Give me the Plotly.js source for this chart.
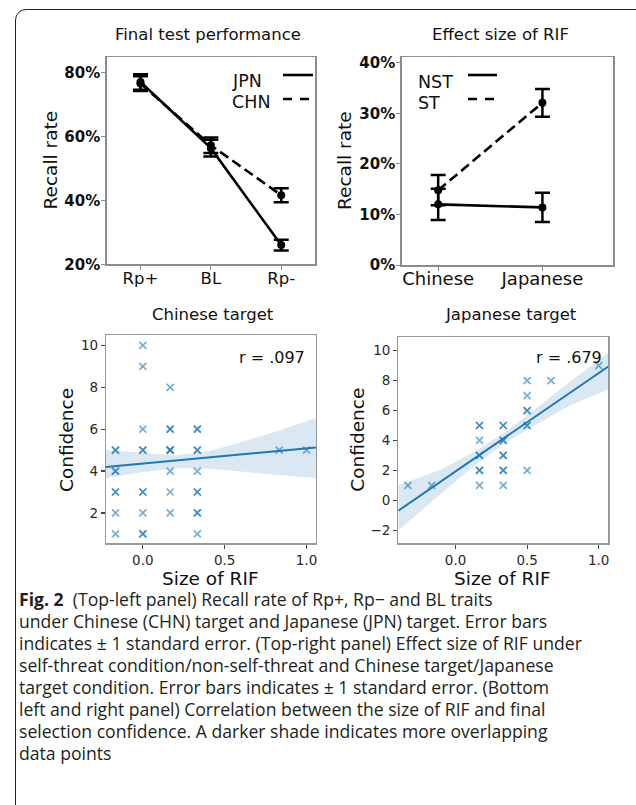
<!DOCTYPE html>
<html><head><meta charset="utf-8">
<script src="https://cdn.plot.ly/plotly-3.0.1.min.js"></script>
<style>
html,body{margin:0;padding:0;background:#fff;overflow:hidden;}
#wrap{position:relative;width:636px;height:805px;}
#chart{position:absolute;left:0;top:0;width:636px;height:805px;}
#frame{position:absolute;left:15px;top:9px;width:640px;height:900px;border:1px solid #231f20;border-radius:11px;box-sizing:border-box;pointer-events:none;}
</style></head>
<body><div id="wrap"><div id="chart"></div><div id="frame"></div></div>
<script>
// ---------- data ----------
const finalCats = ['Rp+', 'BL', 'Rp-'];
const jpnRecall = [77.0, 56.3, 26.0];
const jpnErr = [2.4, 2.6, 1.7];
const chnRecall = [76.5, 57.2, 41.6];
const chnErr = [2.3, 2.4, 2.2];
const finalTicks = [20, 40, 60, 80];

const rifCats = ['Chinese', 'Japanese'];
const nstRIF = [12.0, 11.4];
const nstErr = [3.1, 2.9];
const stRIF = [14.8, 32.1];
const stErr = [3.0, 2.75];
const rifTicks = [0, 10, 20, 30, 40];

const chnTargetRIF = [
  -0.167,-0.167,-0.167,-0.167,-0.167,-0.167,-0.167,-0.167,
  0,0,0,0,0,0,0,0,0,0,
  0.167,0.167,0.167,0.167,0.167,0.167,0.167,0.167,0.167,
  0.333,0.333,0.333,0.333,0.333,0.333,0.333,0.333,0.333,0.333,
  0.833, 1.0];
const chnTargetConf = [
  5,5,4,4,3,3,2,1,
  10,9,6,5,5,3,3,2,1,1,
  8,6,6,5,5,5,4,3,2,
  6,6,5,5,4,3,3,2,2,1,
  5, 5];
const chnFitX = [-0.225, 1.058];
const chnFitY = [4.19, 5.13];
const chnBandX = [-0.225, 0, 0.2, 0.4, 0.6, 0.8, 1.058];
const chnBandUpper = [4.99, 4.85, 4.75, 4.95, 5.38, 5.85, 6.54];
const chnBandLower = [3.67, 3.95, 4.14, 4.12, 3.98, 3.82, 3.67];
const chnR = 'r = .097';

const jpnTargetRIF = [
  -0.333, -0.167,
  0.167,0.167,0.167,0.167,0.167,0.167,0.167,0.167,
  0.333,0.333,0.333,0.333,0.333,0.333,0.333,0.333,0.333,
  0.5,0.5,0.5,0.5,0.5,0.5,0.5,
  0.667, 1.0];
const jpnTargetConf = [
  1, 1,
  5,5,4,3,3,2,2,1,
  5,5,4,4,3,3,2,2,1,
  8,7,6,6,5,5,2,
  8, 9];
const jpnFitX = [-0.4, 1.067];
const jpnFitY = [-0.7, 8.95];
const jpnBandX = [-0.4, -0.1, 0.15, 0.35, 0.55, 0.8, 1.067];
const jpnBandUpper = [1.0, 2.05, 3.35, 4.6, 6.05, 7.95, 9.85];
const jpnBandLower = [-2.0, 0.45, 2.45, 3.85, 5.0, 6.35, 7.4];
const jpnR = 'r = .679';

const captionLines = [
  '<b>Fig. 2</b>  (Top-left panel) Recall rate of Rp+, Rp\u2212 and BL traits',
  'under Chinese (CHN) target and Japanese (JPN) target. Error bars',
  'indicates \u00b1 1 standard error. (Top-right panel) Effect size of RIF under',
  'self-threat condition/non-self-threat and Chinese target/Japanese',
  'target condition. Error bars indicates \u00b1 1 standard error. (Bottom',
  'left and right panel) Correlation between the size of RIF and final',
  'selection confidence. A darker shade indicates more overlapping',
  'data points'
];

// ---------- helpers ----------
const W = 636, H = 805;
const PX = x => x / W;
const PY = y => 1 - y / H;
const FONT = 'DejaVu Sans';
const BLUE = '#1f77b4';

const traces = [];

// Top-left
traces.push({
  x: finalCats, y: chnRecall, xaxis: 'x', yaxis: 'y', type: 'scatter', mode: 'lines+markers',
  line: {color: '#000', width: 2.6, dash: '10px,5px'},
  marker: {color: '#000', size: 8},
  error_y: {type: 'data', array: chnErr, color: '#000', thickness: 2.5, width: 7.5},
  showlegend: false, name: 'CHN'
});
traces.push({
  x: finalCats, y: jpnRecall, xaxis: 'x', yaxis: 'y', type: 'scatter', mode: 'lines+markers',
  line: {color: '#000', width: 2.6},
  marker: {color: '#000', size: 8},
  error_y: {type: 'data', array: jpnErr, color: '#000', thickness: 2.5, width: 7.5},
  showlegend: false, name: 'JPN'
});
// Top-right
traces.push({
  x: rifCats, y: stRIF, xaxis: 'x2', yaxis: 'y2', type: 'scatter', mode: 'lines+markers',
  line: {color: '#000', width: 2.6, dash: '10px,5px'},
  marker: {color: '#000', size: 8},
  error_y: {type: 'data', array: stErr, color: '#000', thickness: 2.5, width: 7.5},
  showlegend: false, name: 'ST'
});
traces.push({
  x: rifCats, y: nstRIF, xaxis: 'x2', yaxis: 'y2', type: 'scatter', mode: 'lines+markers',
  line: {color: '#000', width: 2.6},
  marker: {color: '#000', size: 8},
  error_y: {type: 'data', array: nstErr, color: '#000', thickness: 2.5, width: 7.5},
  showlegend: false, name: 'NST'
});

function bandTrace(xs, up, lo, xa, ya) {
  return {
    x: xs.concat(xs.slice().reverse()),
    y: up.concat(lo.slice().reverse()),
    xaxis: xa, yaxis: ya, type: 'scatter', mode: 'lines', fill: 'toself',
    fillcolor: 'rgba(31,119,180,0.17)', line: {width: 0, color: 'rgba(0,0,0,0)'},
    hoverinfo: 'skip', showlegend: false
  };
}
function pointsTrace(xs, ys, xa, ya) {
  return {
    x: xs, y: ys, xaxis: xa, yaxis: ya, type: 'scatter', mode: 'markers',
    marker: {symbol: 'x-thin', size: 7, color: 'rgba(31,119,180,0.6)',
             line: {width: 1.7, color: 'rgba(31,119,180,0.6)'}},
    showlegend: false
  };
}
function fitTrace(xs, ys, xa, ya) {
  return {x: xs, y: ys, xaxis: xa, yaxis: ya, type: 'scatter', mode: 'lines',
    line: {color: BLUE, width: 2}, showlegend: false};
}
traces.push(bandTrace(chnBandX, chnBandUpper, chnBandLower, 'x3', 'y3'));
traces.push(pointsTrace(chnTargetRIF, chnTargetConf, 'x3', 'y3'));
traces.push(fitTrace(chnFitX, chnFitY, 'x3', 'y3'));
traces.push(bandTrace(jpnBandX, jpnBandUpper, jpnBandLower, 'x4', 'y4'));
traces.push(pointsTrace(jpnTargetRIF, jpnTargetConf, 'x4', 'y4'));
traces.push(fitTrace(jpnFitX, jpnFitY, 'x4', 'y4'));

const topAxis = {
  showline: true, mirror: true, linecolor: '#8c8c8c', linewidth: 1.5,
  ticks: 'outside', ticklen: 4, tickcolor: '#8c8c8c', showgrid: false, zeroline: false,
  fixedrange: true
};
const botAxis = {
  showline: true, mirror: true, linecolor: '#9a9a9a', linewidth: 1.2,
  ticks: 'outside', ticklen: 4, tickcolor: '#444', tickwidth: 1.2, showgrid: false, zeroline: false,
  tickfont: {family: FONT, size: 13.5, color: '#2a2a2a'}, fixedrange: true
};

const layout = {
  width: W, height: H, margin: {l: 0, r: 0, t: 0, b: 0},
  paper_bgcolor: '#fff', plot_bgcolor: '#fff', showlegend: false,
  font: {family: FONT, color: '#111'},
  xaxis: Object.assign({}, topAxis, {
    domain: [PX(106.7), PX(315)], anchor: 'y', type: 'category', range: [-0.48, 2.48],
    ticklabelstandoff: -6,
    tickfont: {family: FONT, size: 16.5, color: '#111'}
  }),
  yaxis: Object.assign({}, topAxis, {
    domain: [PY(264.3), PY(57)], anchor: 'x', range: [20, 84.8],
    tickvals: finalTicks, ticktext: finalTicks.map(v => v + '%'), ticklabelstandoff: -2,
    tickfont: {family: FONT, size: 15, color: '#111', weight: 'bold'}
  }),
  xaxis2: Object.assign({}, topAxis, {
    domain: [PX(401.7), PX(613.3)], anchor: 'y2', type: 'category', range: [-0.35, 1.68],
    ticklabelstandoff: -7,
    tickfont: {family: FONT, size: 18, color: '#111'}
  }),
  yaxis2: Object.assign({}, topAxis, {
    domain: [PY(265), PY(57.3)], anchor: 'x2', range: [0, 41.1],
    tickvals: rifTicks, ticktext: rifTicks.map(v => v + '%'), ticklabelstandoff: -2,
    tickfont: {family: FONT, size: 15, color: '#111', weight: 'bold'}
  }),
  xaxis3: Object.assign({}, botAxis, {
    domain: [PX(106), PX(316)], anchor: 'y3', range: [-0.225, 1.058],
    tickvals: [0, 0.5, 1.0], ticktext: ['0.0', '0.5', '1.0']
  }),
  yaxis3: Object.assign({}, botAxis, {
    domain: [PY(543.3), PY(335)], anchor: 'x3', range: [0.55, 10.5],
    tickvals: [2, 4, 6, 8, 10]
  }),
  xaxis4: Object.assign({}, botAxis, {
    domain: [PX(398.3), PX(608.3)], anchor: 'y4', range: [-0.4, 1.067],
    tickvals: [0, 0.5, 1.0], ticktext: ['0.0', '0.5', '1.0']
  }),
  yaxis4: Object.assign({}, botAxis, {
    domain: [PY(543.3), PY(337.3)], anchor: 'x4', range: [-2.88, 10.9],
    tickvals: [-2, 0, 2, 4, 6, 8, 10], ticktext: ['\u22122', '0', '2', '4', '6', '8', '10']
  }),
  annotations: [],
  shapes: []
};

function ann(text, x, y, opts) {
  layout.annotations.push(Object.assign({
    text: text, x: PX(x), y: PY(y), xref: 'paper', yref: 'paper',
    showarrow: false, xanchor: 'center', yanchor: 'middle',
    font: {family: FONT, size: 16.5, color: '#111'}
  }, opts || {}));
}
// titles
ann('Final test performance', 207.5, 35);
ann('Effect size of RIF', 500.5, 35);
ann('Chinese target', 213.3, 315);
ann('Japanese target', 510.8, 315);
// axis titles
const axFont = {family: FONT, size: 18.5, color: '#111'};
ann('Recall rate', 50, 160.5, {textangle: -90, font: axFont});
ann('Recall rate', 345, 161, {textangle: -90, font: axFont});
ann('Confidence', 66, 440, {textangle: -90, font: axFont});
ann('Confidence', 356.7, 440, {textangle: -90, font: axFont});
ann('Size of RIF', 210, 578, {font: axFont});
ann('Size of RIF', 502.5, 578, {font: axFont});
// r values
ann(chnR, 307, 357, {xanchor: 'right', font: {family: FONT, size: 16, color: '#111'}});
ann(jpnR, 603.5, 357, {xanchor: 'right', font: {family: FONT, size: 16, color: '#111'}});
// legends
const legFont = {family: FONT, size: 17.5, color: '#111'};
ann('JPN', 230, 81, {xanchor: 'left', font: legFont});
ann('CHN', 230, 102, {xanchor: 'left', font: legFont});
ann('NST', 416, 82, {xanchor: 'left', font: legFont});
ann('ST', 416, 103, {xanchor: 'left', font: legFont});
function legLine(x0, x1, y, dash) {
  layout.shapes.push({type: 'line', xref: 'paper', yref: 'paper',
    x0: PX(x0), x1: PX(x1), y0: PY(y), y1: PY(y),
    line: {color: '#000', width: 2.6, dash: dash || 'solid'}});
}
legLine(283, 313, 75);
legLine(283, 310, 99, '9px,8px');
legLine(468, 497, 75);
legLine(468, 494, 99, '9px,8px');

// caption
captionLines.forEach((t, i) => {
  ann(t, 17, 599 + i * 22, {xanchor: 'left', font: {family: 'Open Sans', size: 17.6, color: '#231f20'}});
});

Plotly.newPlot('chart', traces, layout, {staticPlot: true, displayModeBar: false});
</script>
</body></html>
